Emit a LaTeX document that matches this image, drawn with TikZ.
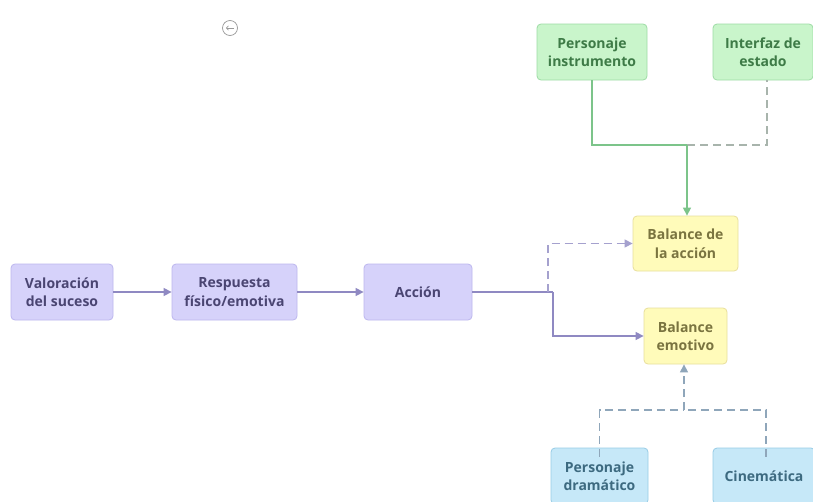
\documentclass[tikz,border=0pt]{standalone}
\usepackage{fontspec}
\setmainfont{Open Sans}
\usetikzlibrary{arrows.meta}
\definecolor{pfill}{HTML}{D6D2FA}
\definecolor{pdraw}{HTML}{BDB7EE}
\definecolor{ptext}{HTML}{4A4572}
\definecolor{parrow}{HTML}{8F89C2}
\definecolor{gfill}{HTML}{C9F5CB}
\definecolor{gdraw}{HTML}{9EDCA6}
\definecolor{gtext}{HTML}{3E7B47}
\definecolor{garrow}{HTML}{7CC48A}
\definecolor{gdash}{HTML}{A8B4AC}
\definecolor{yfill}{HTML}{FFFBBA}
\definecolor{ydraw}{HTML}{E8DF9C}
\definecolor{ytext}{HTML}{7A7440}
\definecolor{bfill}{HTML}{C6E8F8}
\definecolor{bdraw}{HTML}{98CCE6}
\definecolor{btext}{HTML}{3D6A80}
\definecolor{barrow}{HTML}{8FA6BA}
\tikzset{
  x=1pt, y=-1pt,
  box/.style={rounded corners=4pt, line width=0.8pt, align=center, inner sep=0pt,
    font=\fontsize{14}{18.5}\selectfont\bfseries},
  pbox/.style={box, fill=pfill, draw=pdraw, text=ptext},
  gbox/.style={box, fill=gfill, draw=gdraw, text=gtext},
  ybox/.style={box, fill=yfill, draw=ydraw, text=ytext},
  bbox/.style={box, fill=bfill, draw=bdraw, text=btext},
  conn/.style={line width=1.3pt, -{Triangle[length=8pt,width=8pt]}},
  dashy/.style={dash pattern=on 8pt off 5pt},
}
\begin{document}
\begin{tikzpicture}
\useasboundingbox (0,0) rectangle (813,501);
\fill[white] (0,0) rectangle (813,501);
% purple chain
\node[pbox, minimum width=102pt, minimum height=56pt] (val) at (62,292) {Valoración\\del suceso};
\node[pbox, minimum width=125pt, minimum height=56pt] (resp) at (234.5,292) {Respuesta\\físico/emotiva};
\node[pbox, minimum width=108pt, minimum height=56pt] (acc) at (418,292) {Acción};
% green
\node[gbox, minimum width=110pt, minimum height=56pt] (pins) at (592,52) {Personaje\\instrumento};
\node[gbox, minimum width=100pt, minimum height=56pt] (intf) at (763,52) {Interfaz de\\estado};
% yellow
\node[ybox, minimum width=105pt, minimum height=55pt] (bacc) at (685.5,243.5) {Balance de\\la acción};
\node[ybox, minimum width=83pt, minimum height=56pt] (bemo) at (685.5,336) {Balance\\emotivo};
% blue
\node[bbox, minimum width=97pt, minimum height=56pt] (pdra) at (599.5,476) {Personaje\\dramático};
\node[bbox, minimum width=102pt, minimum height=56pt] (cine) at (764,476) {Cinemática};
% icon
\node[circle, draw=gray!80, line width=0.7pt, minimum size=15pt, inner sep=0pt] (icon) at (230,28) {};
\draw[gray!80, line width=0.7pt, -{Straight Barb[length=2pt,width=4.5pt]}] ([xshift=4pt]icon.center) -- ([xshift=-4pt]icon.center);
% coordinates
\coordinate (j1) at (553,292);
\coordinate (j2) at (548,292);
\coordinate (gj) at (687,145);
\coordinate (bj) at (684,410);
% purple connectors
\draw[conn, parrow] (val.east) -- (resp.west);
\draw[conn, parrow] (resp.east) -- (acc.west);
\draw[line width=1.3pt, parrow] (acc.east) -- (j1);
\draw[conn, parrow] (j1) |- (bemo.west);
\draw[conn, parrow!80, dashy] (j2) |- (bacc.west);
% green connectors
\draw[line width=1.3pt, garrow] (pins.south) |- (gj);
\draw[line width=1.3pt, gdash, dashy] (gj) -| ([xshift=4pt]intf.south);
\draw[conn, garrow] (gj) -- (bacc.north -| gj);
% blue connectors
\draw[line width=1.3pt, barrow, dashy] ([yshift=-9pt]pdra.north) |- (bj);
\draw[line width=1.3pt, barrow, dashy] ([yshift=-9pt, xshift=2pt]cine.north) |- (bj);
\draw[conn, barrow, dashy] (bj) -- (bemo.south -| bj);
\end{tikzpicture}
\end{document}
